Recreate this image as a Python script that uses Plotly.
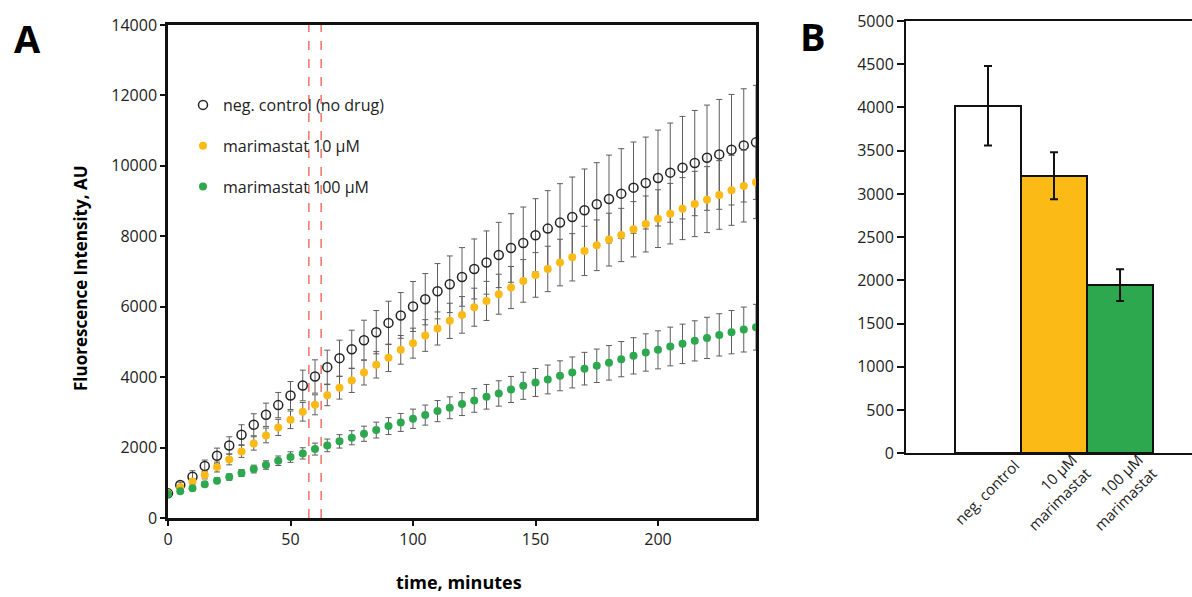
import plotly.graph_objects as go

# ---------------- data: panel A (kinetics) ----------------
time_min = [0, 5, 10, 15, 20, 25, 30, 35, 40, 45, 50, 55, 60, 65, 70, 75, 80, 85, 90, 95,
            100, 105, 110, 115, 120, 125, 130, 135, 140, 145, 150, 155, 160, 165, 170, 175,
            180, 185, 190, 195, 200, 205, 210, 215, 220, 225, 230, 235, 240]

neg_control = [700, 936, 1172, 1475, 1768, 2060, 2364, 2648, 2932, 3206, 3480, 3764, 4019, 4284,
               4539, 4794, 5050, 5276, 5540, 5752, 6005, 6213, 6440, 6638, 6846, 7073, 7254, 7470,
               7668, 7810, 8028, 8218, 8388, 8548, 8738, 8908, 9058, 9211, 9381, 9512, 9654, 9807,
               9949, 10079, 10232, 10326, 10459, 10581, 10667]
neg_control_err = [40, 80, 170, 170, 217, 246, 284, 312, 331, 359, 397, 435, 473, 482, 510, 539,
                   567, 615, 615, 650, 709, 728, 785, 804, 832, 851, 898, 927, 974, 1021, 1040,
                   1078, 1106, 1135, 1173, 1182, 1248, 1277, 1296, 1305, 1362, 1409, 1456, 1494,
                   1494, 1560, 1570, 1608, 1620]

mari_10 = [700, 870, 1040, 1220, 1447, 1664, 1891, 2118, 2345, 2572, 2789, 3016, 3215, 3489, 3697,
           3905, 4132, 4350, 4548, 4775, 4965, 5182, 5381, 5598, 5768, 5986, 6165, 6355, 6544, 6733,
           6903, 7073, 7254, 7404, 7584, 7745, 7906, 8037, 8199, 8350, 8501, 8643, 8785, 8917, 9041,
           9173, 9305, 9427, 9532]
mari_10_err = [30, 50, 80, 110, 140, 155, 170, 190, 210, 230, 250, 265, 284, 300, 320, 340, 355,
               375, 390, 407, 426, 450, 470, 500, 520, 540, 555, 568, 597, 605, 634, 645, 662, 672,
               700, 720, 750, 757, 785, 795, 820, 860, 880, 927, 937, 975, 993, 1021, 1030]

mari_100 = [680, 757, 842, 955, 1059, 1163, 1277, 1390, 1504, 1626, 1730, 1835, 1957, 2062, 2176,
            2279, 2393, 2496, 2610, 2714, 2818, 2922, 3035, 3130, 3234, 3338, 3442, 3537, 3650, 3754,
            3849, 3934, 4038, 4133, 4241, 4322, 4406, 4511, 4605, 4700, 4775, 4870, 4945, 5030, 5115,
            5200, 5277, 5352, 5418]
mari_100_err = [30, 40, 55, 65, 80, 90, 100, 110, 120, 135, 150, 160, 170, 180, 190, 200, 215, 225,
                240, 255, 274, 285, 300, 310, 325, 335, 350, 360, 370, 385, 397, 410, 425, 440, 463,
                475, 490, 500, 515, 530, 540, 550, 560, 570, 585, 600, 615, 638, 650]

series_names = ["neg. control (no drug)", "marimastat 10 µM", "marimastat 100 µM"]
window_times = [57.5, 62.5]          # dashed red window around the 60 min read

# ---------------- data: panel B (bars) ----------------
bar_pos = [1, 2, 3]
bar_labels = ["neg. control", "10 µM<br>marimastat", "100 µM<br>marimastat"]
bar_values = [4020, 3210, 1945]
bar_err = [460, 272, 183]

x_ticks_a = [0, 50, 100, 150, 200]
y_ticks_a = list(range(0, 14001, 2000))
y_ticks_b = list(range(0, 5001, 500))

# ---------------- styles ----------------
FONT = "Open Sans"
YELLOW = "#FBBA16"
GREEN = "#2DA84E"
W, H = 1192, 597

def px_x(p):
    return p / W

def px_y(p):
    return (H - p) / H

fig = go.Figure()

err_style = dict(type="data", thickness=1, width=3, color="#5e5e5e")

fig.add_trace(go.Scatter(
    x=time_min, y=neg_control, mode="markers", name=series_names[0], legendgroup="a",
    marker=dict(symbol="circle-open", size=9, color="#222222", line=dict(width=1.5, color="#222222")),
    error_y=dict(array=neg_control_err, **err_style), xaxis="x", yaxis="y"))
fig.add_trace(go.Scatter(
    x=time_min, y=mari_10, mode="markers", name=series_names[1], legendgroup="b",
    marker=dict(symbol="circle", size=8, color=YELLOW),
    error_y=dict(array=mari_10_err, **err_style), xaxis="x", yaxis="y"))
fig.add_trace(go.Scatter(
    x=time_min, y=mari_100, mode="markers", name=series_names[2], legendgroup="c",
    marker=dict(symbol="circle", size=8, color=GREEN),
    error_y=dict(array=mari_100_err, **err_style), xaxis="x", yaxis="y"))

fig.add_trace(go.Bar(
    x=bar_pos, y=bar_values, width=1, showlegend=False,
    marker=dict(color=["#FFFFFF", YELLOW, GREEN], line=dict(color="#111111", width=2)),
    error_y=dict(type="data", array=bar_err, thickness=2, width=4, color="#111111"),
    xaxis="x2", yaxis="y2"))

for t in window_times:
    fig.add_shape(type="line", xref="x", yref="y domain", x0=t, x1=t, y0=0, y1=1,
                  line=dict(color="#EF5B50", width=1.3, dash="dash"))

tick_font = dict(family=FONT, size=16, color="#222222")

fig.update_layout(
    width=W, height=H, margin=dict(l=0, r=0, t=0, b=0),
    paper_bgcolor="white", plot_bgcolor="white",
    font=dict(family=FONT, color="#222222"),
    showlegend=True,
    legend=dict(x=px_x(183), y=px_y(88), xanchor="left", yanchor="top",
                font=dict(family=FONT, size=16, color="#222222"),
                bgcolor="rgba(0,0,0,0)", tracegroupgap=17, itemwidth=30),
    xaxis=dict(domain=[px_x(168), px_x(756)], range=[0, 240], tickvals=x_ticks_a,
               ticks="outside", ticklen=5, tickwidth=2, tickcolor="#111111",
               showline=True, linecolor="#111111", linewidth=2.5, mirror=True,
               showgrid=False, zeroline=False, tickfont=tick_font, automargin=False),
    yaxis=dict(domain=[px_y(518), px_y(25)], range=[0, 14000], tickvals=y_ticks_a,
               tickformat="d",
               ticks="outside", ticklen=5, tickwidth=1.5, tickcolor="#111111",
               showline=True, linecolor="#111111", linewidth=2.5, mirror=True,
               showgrid=False, zeroline=False, tickfont=tick_font, automargin=False),
    xaxis2=dict(domain=[px_x(906), 1.0], range=[-0.242, 4.09], showticklabels=False,
                ticks="", showline=True, linecolor="#111111", linewidth=2, mirror=True,
                showgrid=False, zeroline=False, anchor="y2", automargin=False),
    yaxis2=dict(domain=[px_y(453.3), px_y(21)], range=[0, 5000], tickvals=y_ticks_b,
                tickformat="d",
                ticks="outside", ticklen=7, tickwidth=1.5, tickcolor="#111111",
                showline=True, linecolor="#111111", linewidth=2, mirror=False,
                showgrid=False, zeroline=False, anchor="x2",
                tickfont=dict(family=FONT, size=16, color="#222222"), automargin=False),
    bargap=0,
)

annotations = [
    dict(text="<b>A</b>", x=px_x(27), y=px_y(38), xref="paper", yref="paper",
         xanchor="center", yanchor="middle",
         showarrow=False, font=dict(family=FONT, size=38, color="#000000")),
    dict(text="<b>B</b>", x=px_x(813), y=px_y(36), xref="paper", yref="paper",
         xanchor="center", yanchor="middle",
         showarrow=False, font=dict(family=FONT, size=38, color="#000000")),
    dict(text="<b>time, minutes</b>", x=px_x(459), y=px_y(582), xref="paper", yref="paper",
         xanchor="center", yanchor="middle",
         showarrow=False, font=dict(family=FONT, size=18, color="#000000")),
    dict(text="<b>Fluorescence Intensity, AU</b>", x=px_x(80), y=px_y(278), xref="paper",
         yref="paper", textangle=-90, showarrow=False, xanchor="center", yanchor="middle",
         font=dict(family=FONT, size=17, color="#000000")),
]
for pos, lab in zip(bar_pos, bar_labels):
    annotations.append(dict(text=lab, x=pos - 0.02, y=px_y(492), xref="x2", yref="paper",
                            textangle=-45, showarrow=False, align="right",
                            xanchor="center", yanchor="middle",
                            font=dict(family=FONT, size=15, color="#222222")))
fig.update_layout(annotations=annotations)

fig.write_html("out.html")
